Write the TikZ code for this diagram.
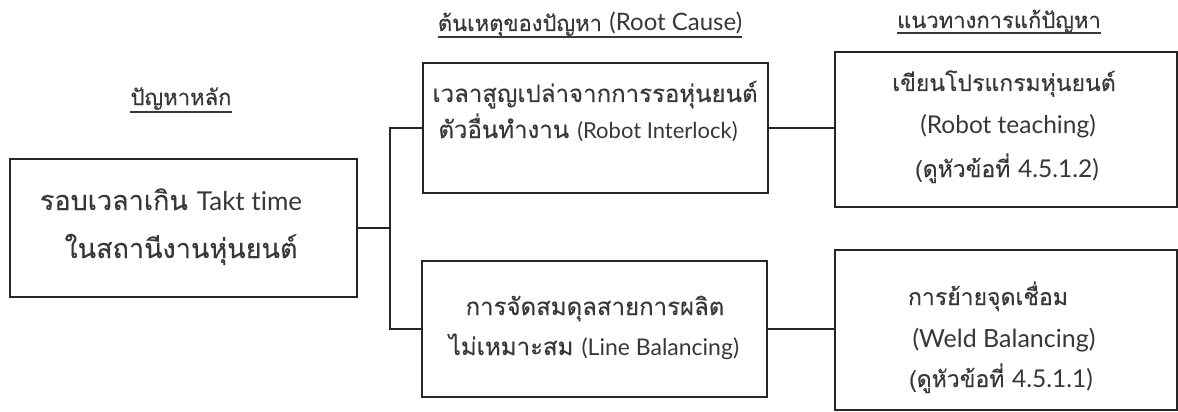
\documentclass[tikz,border=0pt]{standalone}
\usepackage{fontspec}
\setmainfont[Script=Thai,FakeBold=0.25]{Loma}
\newfontfamily\lat[Ligatures={NoCommon,NoRare}]{Lato}
\definecolor{ink}{HTML}{262626}
\definecolor{txt}{HTML}{383838}
\newcommand\La[2]{{\fontsize{#1}{30}\selectfont\lat #2}}
\begin{document}
\begin{tikzpicture}[x=1pt,y=-1pt,
  box/.style={draw=ink,line width=2pt,rectangle,inner sep=0pt},
  ln/.style={text=txt,anchor=base,inner sep=0pt},
  title/.style={text=txt,anchor=base,inner sep=0pt,font=\fontsize{22}{26}\selectfont},
  uline/.style={draw=txt,line width=1.4pt},
  conn/.style={draw=ink,line width=2pt}]
\useasboundingbox[fill=white] (0,0) rectangle (1178,412);
% titles
\node[title] (t1) at (181,105) {ปัญหาหลัก};
\node[title] (t2) at (590,31) {ต้นเหตุของปัญหา \La{24}{(Root Cause)}};
\node[title] (t3) at (999,28) {แนวทางการแก้ปัญหา};
\foreach \t/\d in {t1/7,t2/6,t3/5}
  \draw[uline] ([yshift=-\d pt]\t.base west) -- ([yshift=-\d pt]\t.base east);
% boxes
\node[box,minimum width=347,minimum height=138] (A) at (183.5,228) {};
\node[box,minimum width=345,minimum height=130] (B) at (595.5,128) {};
\node[box,minimum width=345,minimum height=136] (C) at (594.5,329) {};
\node[box,minimum width=342,minimum height=155] (D) at (1006,129.5) {};
\node[box,minimum width=342,minimum height=160] (E) at (1006,330) {};
% box texts
\begin{scope}[font=\fontsize{27}{30}\selectfont]
\node[ln] (a1) at (171,210) {รอบเวลาเกิน \La{26}{Takt time}};
\node[ln] (a2) at (181,258) {ในสถานีงานหุ่นยนต์};
\end{scope}
\begin{scope}[font=\fontsize{24}{30}\selectfont]
\node[ln] (b1) at (595,102) {เวลาสูญเปล่าจากการรอหุ่นยนต์};
\node[ln] (b2) at (588,138) {ตัวอื่นทำงาน \La{22}{(Robot Interlock)}};
\node[ln] (c1) at (595,315) {การจัดสมดุลสายการผลิต};
\node[ln] (c2) at (594,355) {ไม่เหมาะสม \La{23}{(Line Balancing)}};
\end{scope}
\begin{scope}[font=\fontsize{23}{30}\selectfont]
\node[ln] (d1) at (1004,91) {เขียนโปรแกรมหุ่นยนต์};
\node[ln] (d2) at (1008,133) {\La{24.5}{(Robot teaching)}};
\node[ln] (d3) at (1007,177) {(ดูหัวข้อที่ \La{24.5}{4.5.1.2)}};
\node[ln] (e1) at (988,305) {การย้ายจุดเชื่อม};
\node[ln] (e2) at (1004,347) {\La{25}{(Weld Balancing)}};
\node[ln] (e3) at (1001,387) {(ดูหัวข้อที่ \La{24.5}{4.5.1.1)}};
\end{scope}
% connectors
\coordinate (j) at (390,228);
\draw[conn] (A.east) -- (j);
\draw[conn] (B.west) -| (j) |- (C.west);
\draw[conn] (B.east) -- (D.west |- B.east);
\draw[conn] (C.east) -- (E.west |- C.east);
\end{tikzpicture}
\end{document}
